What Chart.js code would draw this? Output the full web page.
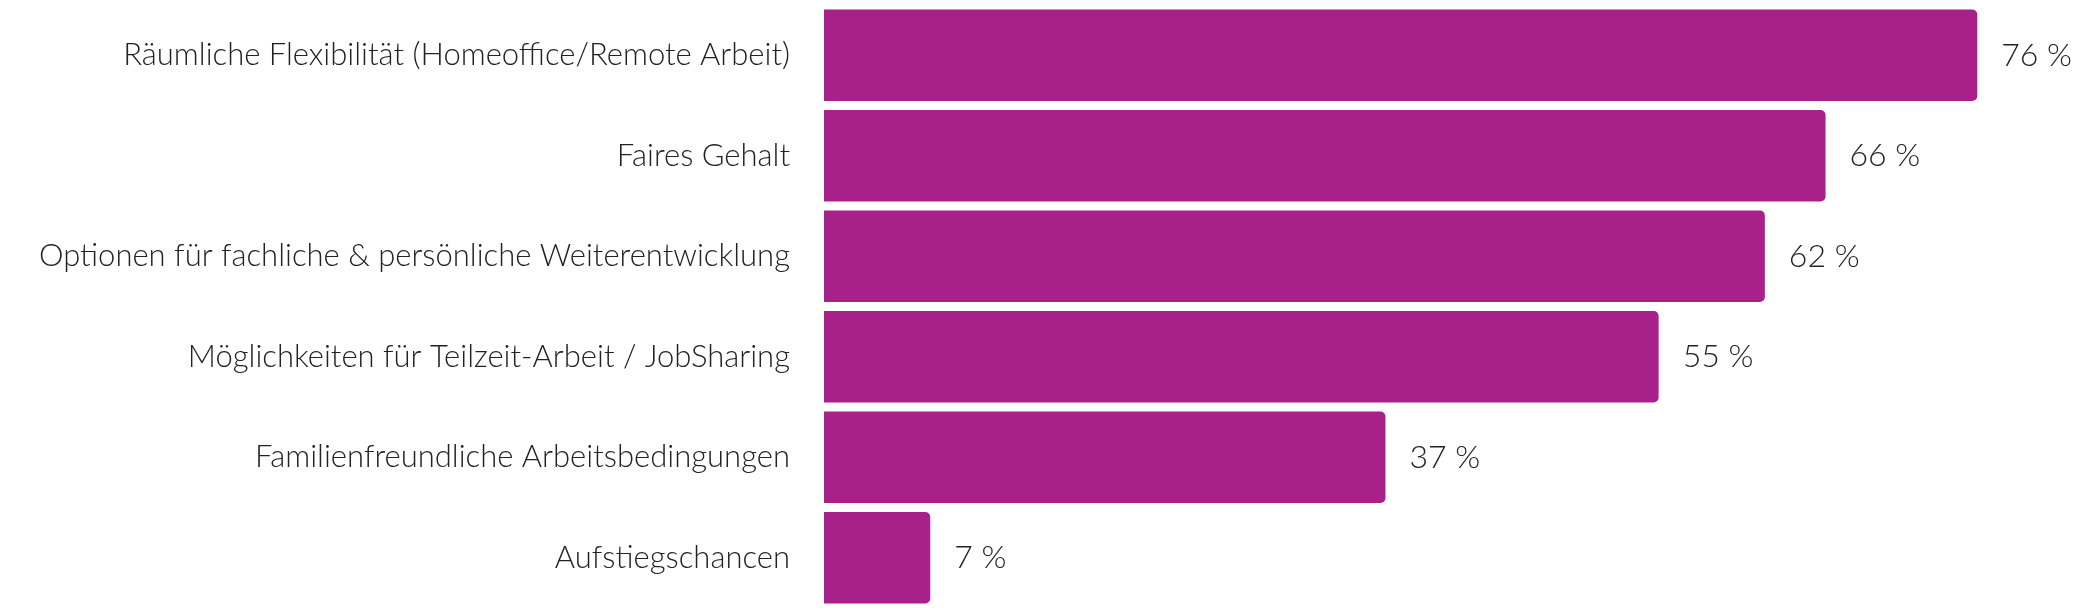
<!DOCTYPE html>
<html>
<head>
<meta charset="utf-8">
<script src="https://cdn.jsdelivr.net/npm/chart.js@4.4.1/dist/chart.umd.min.js"></script>
<style>
  html, body { margin: 0; padding: 0; background: #ffffff; }
  #wrap { width: 2099px; height: 615px; }
</style>
</head>
<body>
<div id="wrap"><canvas id="myChart"></canvas></div>
<script>
// Kategorien und Werte (in %)
const kategorien = [
    'Räumliche Flexibilität (Homeoffice/Remote Arbeit)',
    'Faires Gehalt',
    'Optionen für fachliche & persönliche Weiterentwicklung',
    'Möglichkeiten für Teilzeit-Arbeit / JobSharing',
    'Familienfreundliche Arbeitsbedingungen',
    'Aufstiegschancen'
];
const werte = [76, 66, 62, 55, 37, 7];

const schrift = "Lato, 'Open Sans', sans-serif";
const textFarbe = '#222222';

// Prozentwerte rechts neben den Balken
const wertLabels = {
    id: 'wertLabels',
    afterDatasetsDraw(chart) {
        const ctx = chart.ctx;
        const meta = chart.getDatasetMeta(0);
        ctx.save();
        ctx.font = '300 32px ' + schrift;
        ctx.fillStyle = textFarbe;
        ctx.textAlign = 'left';
        ctx.textBaseline = 'middle';
        meta.data.forEach(function (bar, i) {
            ctx.fillText(werte[i] + ' %', bar.x + 24, bar.y);
        });
        ctx.restore();
    }
};

const dados = {
    labels: kategorien,
    datasets: [{
        data: werte,
        backgroundColor: '#a8218a',
        borderWidth: 0,
        borderRadius: { topLeft: 0, bottomLeft: 0, topRight: 5, bottomRight: 5 },
        borderSkipped: false,
        barPercentage: 0.95,
        categoryPercentage: 0.96,
    }]
};

const config = {
    type: 'bar',
    data: dados,
    options: {
        indexAxis: 'y',
        responsive: true,
        maintainAspectRatio: false,
        animation: false,
        layout: {
            padding: { top: 5, bottom: 7, left: 0, right: 61 }
        },
        scales: {
            x: {
                display: false,
                min: 0,
                max: 80,
            },
            y: {
                afterFit: function (scale) {
                    scale.width = 824;
                    // kein zusätzlicher Rand oben/unten durch die Beschriftung
                    scale.paddingTop = 0;
                    scale.paddingBottom = 0;
                },
                grid: { display: false, drawTicks: false },
                border: { display: false },
                ticks: {
                    padding: 34,
                    color: textFarbe,
                    font: { family: schrift, size: 31, weight: '300' },
                }
            }
        },
        plugins: {
            legend: { display: false },
            tooltip: { enabled: false },
        }
    },
    plugins: [wertLabels]
};

const ctx = document.getElementById('myChart').getContext('2d');
new Chart(ctx, config);
</script>
</body>
</html>
